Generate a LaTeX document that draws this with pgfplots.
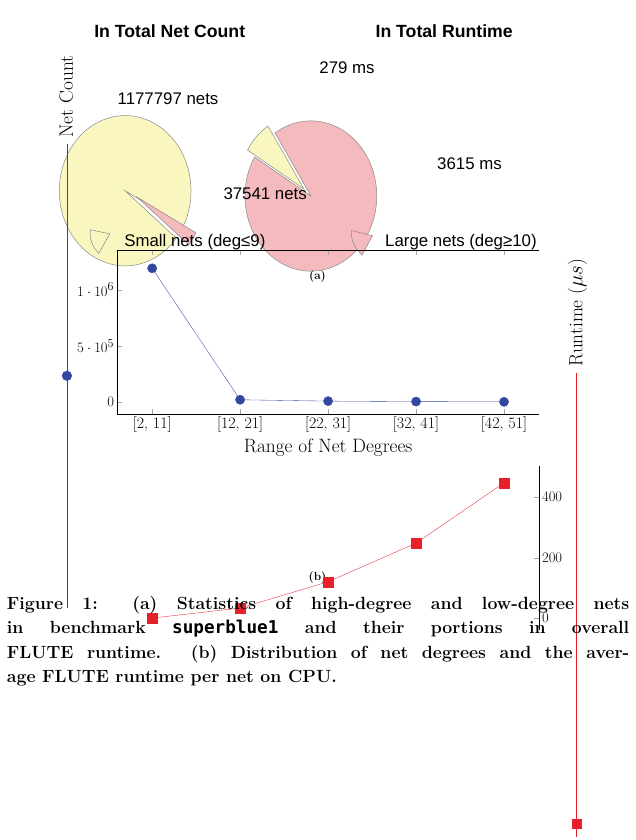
\documentclass[border=0pt]{standalone}
\usepackage{pgfplots}
\pgfplotsset{compat=1.18}
\usepackage{fontspec}
\newfontfamily\hv{Liberation Sans}
\setmonofont{DejaVu Sans Mono}
\definecolor{pyel}{HTML}{FAF6BF}
\definecolor{ppink}{HTML}{F5BABD}
\definecolor{pgray}{HTML}{8A8A8A}
\definecolor{nblue}{HTML}{3447A0}
\definecolor{rred}{HTML}{E8202A}
\pgfplotstableread{
x count
0 1190000
1 20000
2 8000
3 4000
4 1500
}\countdata
\pgfplotstableread{
x rt
0 0
1 33
2 120
3 248
4 447
}\rtdata
\begin{document}
\begin{tikzpicture}[x=1bp,y=1bp]
\path (0,0) rectangle (753,840);
% ---- pie 1: net count (37541 of 1177797+37541 nets)
\pgfmathsetmacro{\sA}{360*3.7541/(117.7797+3.7541)}
\begin{axis}[hide axis, x=78bp, y=89bp, xmin=-1.2,xmax=1.2,ymin=-1.2,ymax=1.2,
  anchor=origin, at={(190,690)}, clip=false]
\pgfmathsetmacro{\aa}{-28}
\pgfmathsetmacro{\ab}{-28-\sA}
\filldraw[pyel,draw=pgray,line width=0.6pt] (axis cs:0,0) -- (axis cs:{cos(\aa)},{sin(\aa)}) arc[start angle=\aa,end angle=\ab+360,x radius=78bp,y radius=89bp] -- cycle;
\filldraw[ppink,draw=pgray,line width=0.6pt] (axis cs:0.19,-0.09) -- (axis cs:{0.19+cos(\ab)},{-0.09+sin(\ab)}) arc[start angle=\ab,end angle=\aa,x radius=78bp,y radius=89bp] -- cycle;
\end{axis}
% ---- pie 2: runtime (279 of 279+3615 ms)
\pgfmathsetmacro{\sB}{360*2.79/(2.79+36.15)}
\begin{axis}[hide axis, x=78bp, y=89bp, xmin=-1.2,xmax=1.2,ymin=-1.2,ymax=1.2,
  anchor=origin, at={(472,683)}, clip=false]
\pgfmathsetmacro{\ba}{123}
\pgfmathsetmacro{\bb}{123+\sB}
\filldraw[ppink,draw=pgray,line width=0.6pt] (axis cs:0,0) -- (axis cs:{cos(\bb)},{sin(\bb)}) arc[start angle=\bb,end angle=\ba+360,x radius=78bp,y radius=89bp] -- cycle;
\filldraw[pyel,draw=pgray,line width=0.6pt] (axis cs:-0.107,0.094) -- (axis cs:{-0.107+cos(\ba)},{0.094+sin(\ba)}) arc[start angle=\ba,end angle=\bb,x radius=78bp,y radius=89bp] -- cycle;
\end{axis}
% pie texts
\begin{scope}[every node/.style={font=\hv\fontsize{20}{24}\selectfont, inner sep=0}]
\node[font=\hv\bfseries\fontsize{21}{24}\selectfont] at (201,803) {In Total Net Count};
\node[font=\hv\bfseries\fontsize{21}{24}\selectfont] at (526,803) {In Total Runtime};
\node at (199,723) {1177797 nets};
\node at (314,611) {37541 nets};
\node at (411,760) {279 ms};
\node at (556,646) {3615 ms};
\node[anchor=west] at (147,553) {Small nets (deg≤9)};
\node[anchor=west] at (456,553) {Large nets (deg≥10)};
\end{scope}
\filldraw[pyel,draw=pgray,line width=0.6pt] (107,568) -- (130,563) -- (117,540) to[bend left=25] cycle;
\filldraw[ppink,draw=pgray,line width=0.6pt] (416,567) -- (441,561) -- (429,538) to[bend left=25] cycle;
\node[font=\bfseries\fontsize{14}{16}\selectfont] at (376,513) {(a)};
\node[font=\bfseries\fontsize{14}{16}\selectfont] at (376,156) {(b)};
% ---- line chart
\begin{axis}[name=main, at={(133,263)}, anchor=south west, scale only axis,
  width=500bp, height=194bp,
  xmin=-0.4, xmax=4.4, ymin=-105000, ymax=1353000,
  xtick={0,1,2,3,4}, xticklabels={{[2, 11]},{[12, 21]},{[22, 31]},{[32, 41]},{[42, 51]}},
  axis y line*=left, ytick={0,500000,1000000}, scaled y ticks=false,
  tick label style={font=\fontsize{19}{22}\selectfont},
  label style={font=\fontsize{23}{26}\selectfont},
  xlabel={Range of Net Degrees},
  ylabel={\tikz[baseline=-0.7ex]{\draw[nblue] (0,0)--(1.1,0); \fill[nblue] (0.55,0) circle(6bp);}\ Net Count},
  ylabel style={yshift=-2bp},
  major tick length=6bp, tick style={gray!70}]
\addplot[nblue, mark=*, mark size=5.5bp, mark options={fill=nblue}] table[x=x,y=count] {\countdata};
\end{axis}
\begin{axis}[at={(133,263)}, anchor=south west, scale only axis,
  width=500bp, height=194bp,
  xmin=-0.4, xmax=4.4, ymin=-39, ymax=503,
  axis x line=none, axis y line*=right, ytick={0,200,400},
  tick label style={font=\fontsize{19}{22}\selectfont},
  label style={font=\fontsize{23}{26}\selectfont},
  ylabel={\tikz[baseline=-0.7ex]{\draw[rred] (0,0)--(1.1,0); \fill[rred] (0.55cm-6bp,-6bp) rectangle (0.55cm+6bp,6bp);}\ Runtime ($\mu s$)},
  major tick length=6bp, tick style={gray!70}]
\addplot[rred, mark=square*, mark size=6bp, mark options={fill=rred}] table[x=x,y=rt] {\rtdata};
\end{axis}
% caption
\node[anchor=north west, text width=737bp, align=justify, inner sep=0,
  font=\bfseries\fontsize{21}{29}\selectfont] at (8,134)
  {Figure 1: (a) Statistics of high-degree and low-degree nets\linebreak in benchmark \texttt{superblue1} and their portions in overall\linebreak FLUTE runtime. (b) Distribution of net degrees and the aver-\linebreak age FLUTE runtime per net on CPU.};
\end{tikzpicture}
\end{document}
